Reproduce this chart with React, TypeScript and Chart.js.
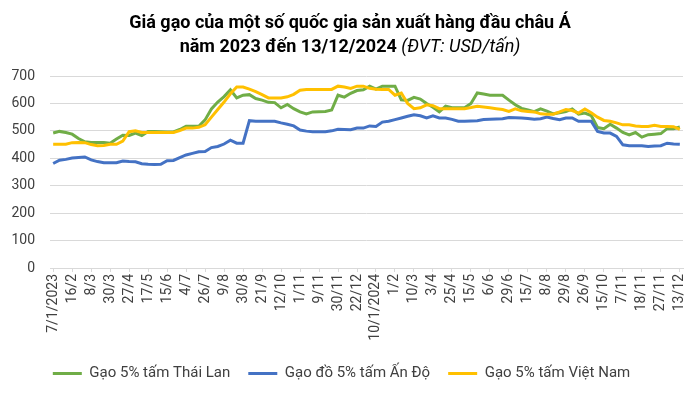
import React, { useEffect, useRef } from "react";
import { Chart, registerables } from "chart.js";

Chart.register(...registerables);

const tickLabels = [
  "7/1/2023", "16/2", "8/3", "30/3", "27/4", "17/5", "15/6", "4/7", "26/7", "9/8",
  "30/8", "21/9", "12/10", "1/11", "9/11", "30/11", "22/12", "10/1/2024", "1/2", "10/3",
  "3/4", "25/4", "15/5", "6/6", "29/6", "15/7", "8/8", "29/8", "26/9", "15/10",
  "7/11", "18/11", "27/11", "13/12",
];

const thaiLan = [
  492, 498, 494, 488, 472, 460, 458, 458, 458, 455,
  470, 484, 483, 492, 483, 498, 498, 497, 496, 496,
  505, 517, 517, 517, 540, 580, 605, 625, 650, 620,
  630, 632, 618, 612, 604, 603, 584, 596, 581, 569,
  562, 569, 570, 571, 576, 630, 623, 637, 647, 650,
  663, 652, 663, 663, 663, 613, 611, 622, 616, 600,
  586, 569, 590, 584, 584, 584, 600, 638, 634, 630,
  630, 630, 612, 595, 582, 576, 570, 580, 572, 562,
  566, 570, 580, 561, 565, 556, 512, 508, 524, 510,
  494, 485, 494, 477, 486, 488, 490, 508, 508, 514,
];

const anDo = [
  381, 393, 396, 401, 403, 405, 394, 388, 384, 384,
  384, 390, 388, 387, 380, 378, 377, 378, 391, 392,
  402, 412, 418, 424, 425, 439, 443, 452, 466, 455,
  455, 537, 535, 535, 535, 535, 529, 524, 518, 503,
  499, 497, 497, 497, 500, 506, 505, 504, 510, 510,
  518, 516, 532, 535, 541, 547, 553, 559, 555, 547,
  555, 547, 547, 542, 535, 535, 536, 537, 541, 542,
  543, 544, 549, 548, 547, 545, 542, 544, 550, 545,
  541, 547, 547, 535, 535, 535, 498, 492, 492, 480,
  449, 446, 446, 446, 443, 445, 446, 455, 452, 451,
];

const vietNam = [
  451, 451, 451, 457, 458, 457, 450, 446, 447, 451,
  451, 463, 497, 500, 494, 494, 494, 494, 494, 494,
  501, 510, 510, 513, 522, 550, 578, 605, 635, 660,
  660, 652, 643, 632, 620, 620, 620, 624, 633, 648,
  651, 651, 651, 651, 651, 663, 660, 655, 663, 663,
  655, 652, 651, 651, 630, 638, 600, 581, 584, 595,
  592, 581, 581, 581, 581, 581, 585, 590, 587, 584,
  581, 578, 571, 580, 573, 571, 569, 562, 561, 561,
  569, 578, 574, 565, 580, 566, 550, 538, 535, 529,
  522, 522, 518, 516, 516, 520, 516, 516, 515, 505,
];

const LABEL_STEP = 3;

export default function App() {
  const canvasRef = useRef<HTMLCanvasElement | null>(null);

  useEffect(() => {
    const canvas = canvasRef.current;
    if (!canvas) return;
    const toPts = (arr: number[]) => arr.map((y, x) => ({ x, y }));
    const n = thaiLan.length;
    const chart = new Chart(canvas, {
      type: "line",
      data: {
        datasets: [
          {
            label: "Gạo 5% tấm Thái Lan",
            data: toPts(thaiLan),
            borderColor: "#70AD47",
            backgroundColor: "#70AD47",
            borderWidth: 3,
            pointRadius: 0,
            tension: 0,
            order: 2,
          },
          {
            label: "Gạo đồ 5% tấm Ấn Độ",
            data: toPts(anDo),
            borderColor: "#4472C4",
            backgroundColor: "#4472C4",
            borderWidth: 3,
            pointRadius: 0,
            tension: 0,
            order: 1,
          },
          {
            label: "Gạo 5% tấm Việt Nam",
            data: toPts(vietNam),
            borderColor: "#FFC000",
            backgroundColor: "#FFC000",
            borderWidth: 3,
            pointRadius: 0,
            tension: 0,
            order: 0,
          },
        ],
      },
      options: {
        animation: false,
        responsive: false,
        layout: { padding: { top: 76, left: 0, right: 17, bottom: 5 } },
        plugins: {
          title: { display: false },
          tooltip: { enabled: false },
          legend: {
            position: "bottom",
            labels: {
              sort: (a: any, b: any) => a.datasetIndex - b.datasetIndex,
              boxWidth: 29,
              boxHeight: 3,
              padding: 18,
              color: "#404040",
              font: { family: "Roboto", size: 15 },
              generateLabels: (ch: any) => {
                const items = Chart.defaults.plugins.legend.labels.generateLabels(ch);
                return items.map((it: any) => ({ ...it, lineWidth: 0, fillStyle: it.strokeStyle }));
              },
            },
          },
        },
        scales: {
          x: {
            type: "linear",
            min: -0.5,
            max: n - 0.5,
            afterBuildTicks: (scale: any) => {
              scale.ticks = tickLabels.map((_, k) => ({ value: Math.min(k * LABEL_STEP, n - 1) }));
            },
            afterFit: (scale: any) => {
              scale.height = 80;
            },
            ticks: {
              autoSkip: false,
              maxRotation: 90,
              minRotation: 90,
              padding: 2,
              color: "#404040",
              font: { family: "Roboto", size: 14 },
              callback: (value: any) => {
                const k = Math.round(Number(value) / LABEL_STEP);
                return tickLabels[k] ?? "";
              },
            },
            grid: {
              drawOnChartArea: false,
              drawTicks: true,
              tickLength: 4,
              color: "#D9D9D9",
            },
            border: { display: true, color: "#D9D9D9" },
          },
          y: {
            min: 0,
            max: 700,
            afterFit: (scale: any) => {
              scale.width = 50;
            },
            ticks: {
              stepSize: 100,
              padding: 15,
              color: "#404040",
              font: { family: "Roboto", size: 14 },
            },
            grid: { color: "#D9D9D9", drawTicks: false, lineWidth: 1 },
            border: { display: false },
          },
        },
      },
    });
    return () => chart.destroy();
  }, []);

  return (
    <div style={{ position: "fixed", left: 0, top: 0, width: 700, height: 396, background: "#fff" }}>
      <canvas ref={canvasRef} width={700} height={396} style={{ position: "absolute", left: 0, top: 0 }} />
      <div
        style={{
          position: "absolute",
          top: 10,
          left: 0,
          width: 700,
          textAlign: "center",
          fontFamily: "Roboto",
          fontSize: 18,
          lineHeight: "24px",
          color: "#000",
        }}
      >
        <div style={{ fontWeight: "bold" }}>Giá gạo của một số quốc gia sản xuất hàng đầu châu Á</div>
        <div>
          <span style={{ fontWeight: "bold" }}>năm 2023 đến 13/12/2024</span>{" "}
          <span style={{ fontStyle: "italic" }}>(ĐVT: USD/tấn)</span>
        </div>
      </div>
    </div>
  );
}
